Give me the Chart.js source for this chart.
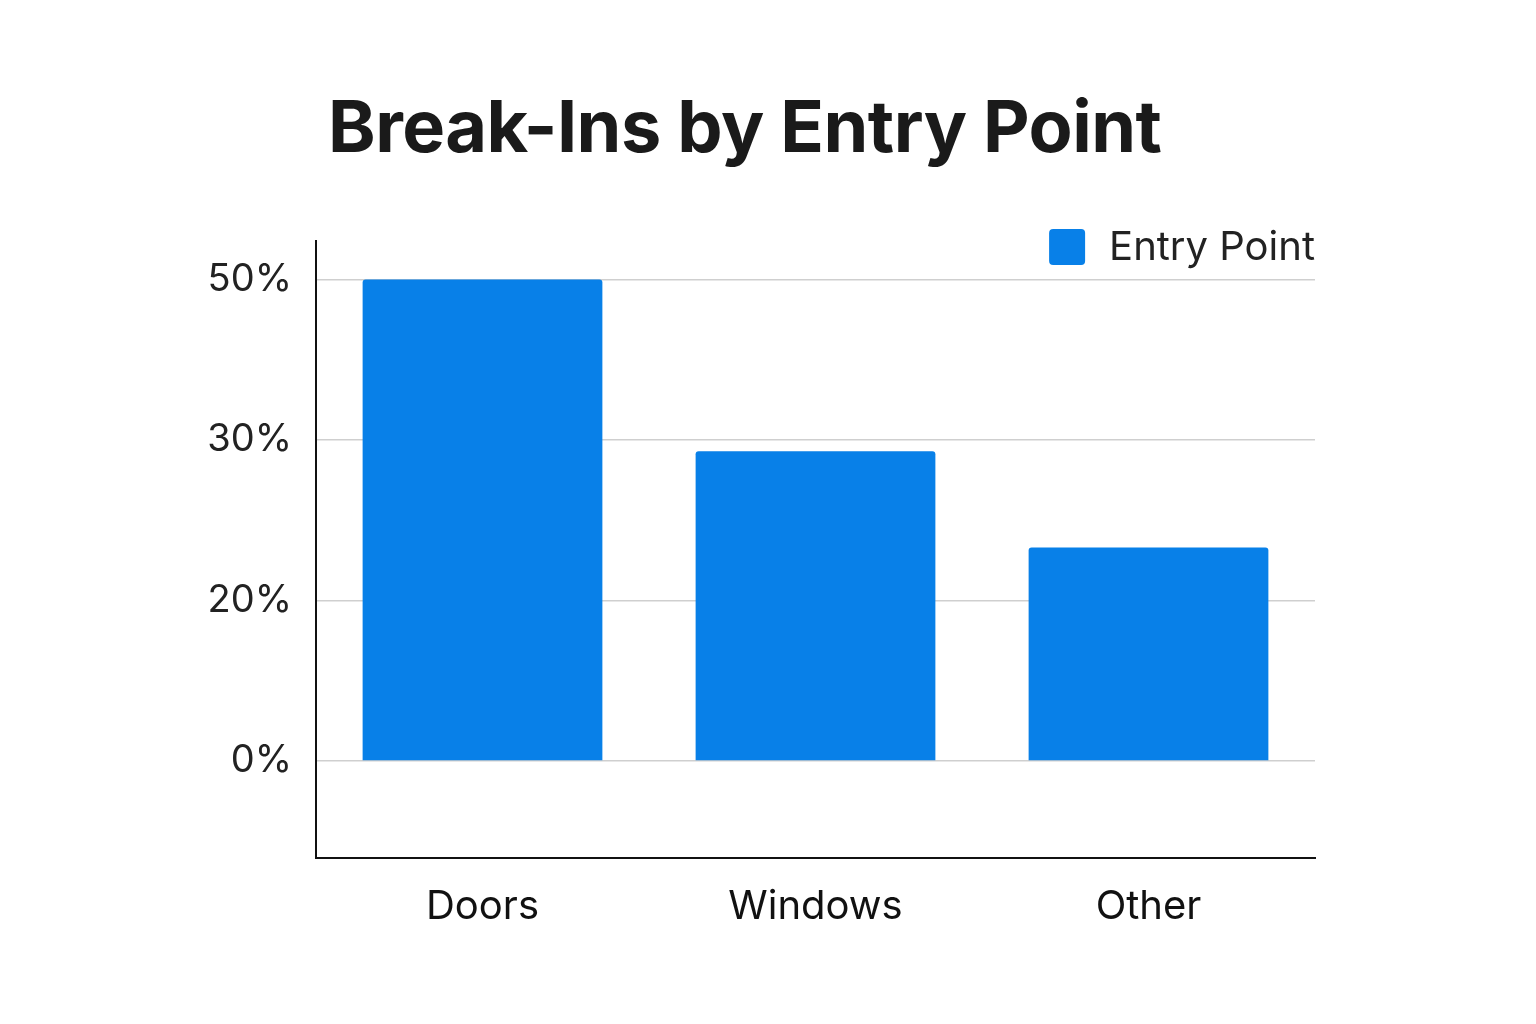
<!DOCTYPE html>
<html>
<head>
<meta charset="utf-8">
<script src="https://cdn.jsdelivr.net/npm/chart.js@4"></script>
<style>
  html, body { margin: 0; padding: 0; background: #fff; }
  #wrap { position: relative; width: 1536px; height: 1024px; }
  h1 { position: absolute; left: 328px; top: 82px; margin: 0; font: 700 72px Inter, sans-serif; color: #1a1a1a; letter-spacing: -0.5px; }
  canvas { position: absolute; left: 0; top: 0; }
</style>
</head>
<body>
<div id="wrap">
  <h1>Break-Ins by Entry Point</h1>
  <canvas id="chart" width="1536" height="1024"></canvas>
</div>
<script>
const categories = ['Doors', 'Windows', 'Other'];
const values     = [50, 29.3, 23.3];
const tickLevels = [0, 20, 30, 50];   // axis labels, evenly spaced in the picture

// the axis spaces its labels evenly, so place each value between its neighbouring labels
function toAxis(v) {
  for (let i = 1; i < tickLevels.length; i++) {
    if (v <= tickLevels[i]) return i - 1 + (v - tickLevels[i - 1]) / (tickLevels[i] - tickLevels[i - 1]);
  }
  return tickLevels.length - 1;
}

// legend drawn inside the top right corner of the plot
const cornerLegend = {
  id: 'cornerLegend',
  afterDraw(chart) {
    const {ctx, chartArea} = chart;
    const ds = chart.data.datasets[0];
    ctx.save();
    ctx.font = '40px Inter';
    const w = ctx.measureText(ds.label).width;
    const x = chartArea.right - w, y = chartArea.top + 6;
    ctx.fillStyle = ds.backgroundColor;
    ctx.beginPath();
    ctx.roundRect(x - 60, y - 18, 36, 36, 4);
    ctx.fill();
    ctx.fillStyle = '#222';
    ctx.textBaseline = 'middle';
    ctx.fillText(ds.label, x, y + 1);
    ctx.restore();
  }
};

new Chart(document.getElementById('chart'), {
  type: 'bar',
  data: {
    labels: categories,
    datasets: [{
      label: 'Entry Point',
      data: values.map(toAxis),
      backgroundColor: '#0880e8',
      borderRadius: 3,
      borderSkipped: 'bottom',
      barPercentage: 0.72,
      categoryPercentage: 1
    }]
  },
  plugins: [cornerLegend],
  options: {
    responsive: false,
    animation: false,
    layout: {padding: {top: 241, right: 221, left: 0, bottom: 0}},
    plugins: {
      legend: {display: false},
      tooltip: {enabled: false}
    },
    scales: {
      x: {
        grid: {display: false},
        border: {display: true, color: '#111', width: 2},
        ticks: {padding: 17, color: '#111', font: {size: 40, family: 'Inter'}},
        afterFit: s => { s.height = 166; }
      },
      y: {
        min: -0.605,
        max: 3.24,
        afterBuildTicks: s => { s.ticks = tickLevels.map((_, i) => ({value: i})); },
        ticks: {padding: 24, color: '#222', font: {size: 38, family: 'Inter'},
                callback: (v, i) => tickLevels[i] + '%'},
        grid: {color: '#cfcfcf', lineWidth: 1.5, drawTicks: false},
        border: {display: true, color: '#111', width: 2},
        afterFit: s => { s.width = 316; }
      }
    }
  }
});
</script>
</body>
</html>
